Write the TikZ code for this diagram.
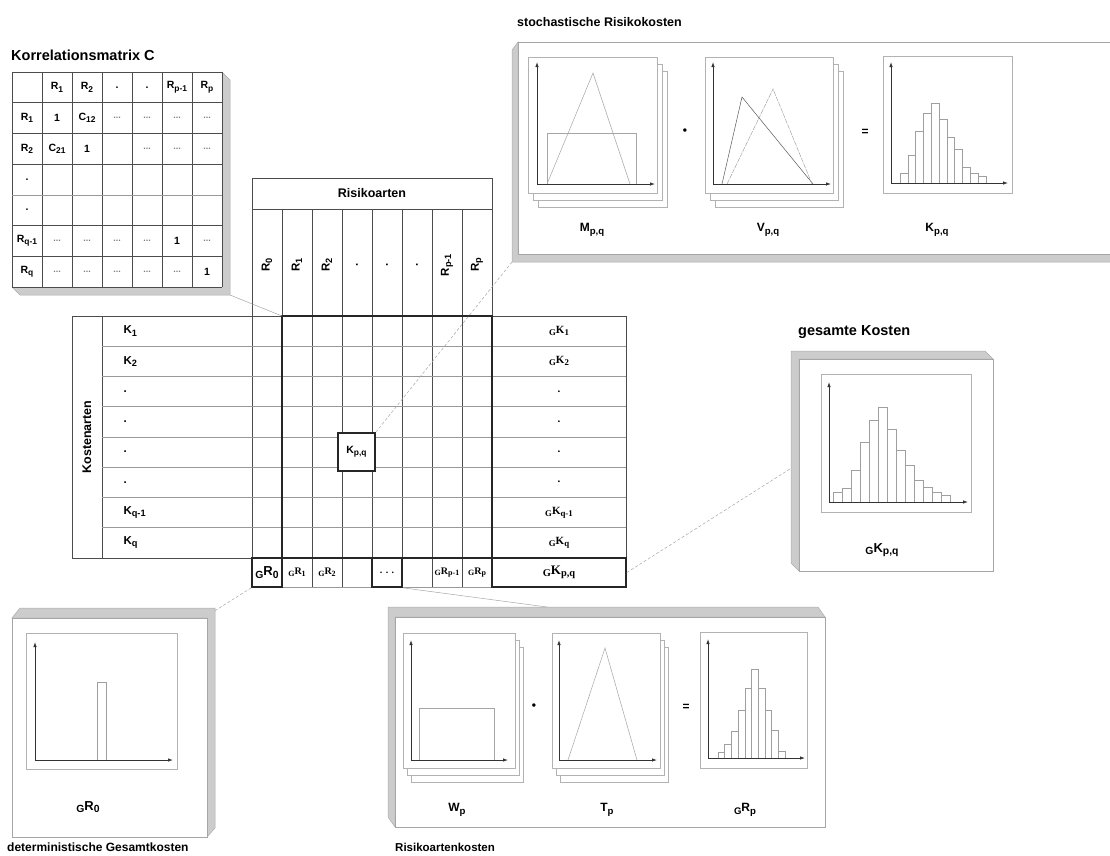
\documentclass[tikz,border=0pt]{standalone}
\usepackage{fontspec}
\setmainfont{Liberation Serif}
\setsansfont{Liberation Sans}
\usetikzlibrary{positioning, calc, arrows.meta}
\newcommand{\sub}[1]{\raisebox{-0.4ex}{\scalebox{0.8}{#1}}}
\newcommand{\grdots}{\textcolor{gray}{\fontsize{9}{9}\selectfont...}}

\begin{document}
\begin{tikzpicture}[x=1pt, y=-1pt,
    ttl/.style={anchor=west, inner sep=0pt, font=\sffamily\bfseries\fontsize{12.5}{14}\selectfont},
    lbl/.style={font=\sffamily\bfseries\fontsize{11.5}{13}\selectfont},
    mtx/.style={font=\sffamily\bfseries\fontsize{10.5}{12}\selectfont},
    glbl/.style={font=\rmfamily\bfseries\fontsize{11}{12}\selectfont},
    slbl/.style={font=\rmfamily\bfseries\fontsize{10}{12}\selectfont},
    plbl/.style={font=\sffamily\bfseries\fontsize{12}{14}\selectfont},
    gln/.style={draw=black!70, line width=0.6pt},
    hln/.style={draw=black!40, line width=0.6pt},
    thk/.style={draw=black!85, line width=1.6pt},
    cell/.style={thk, fill=white, inner sep=0pt},
    slab/.style={fill=gray!40, draw=gray!65, line width=0.5pt},
    face/.style={fill=white, draw=gray!70, line width=0.6pt},
    frm/.style={fill=white, draw=gray!60, line width=0.5pt},
    ax/.style={-{Latex[length=5pt, width=3.5pt]}, line width=0.8pt, black!80},
    crv/.style={draw=gray!70, line width=0.5pt},
    bar/.style={draw=gray!75, fill=white, line width=0.5pt},
    lnk/.style={draw=gray!70, line width=0.5pt},
    dlnk/.style={lnk, dash pattern=on 3pt off 2pt},
]
\useasboundingbox (0,0) rectangle (1110,855);

% --- Korrelationsmatrix ---
\node[ttl, font=\sffamily\bfseries\fontsize{14.5}{16}\selectfont] (corr-title)
    at (11,55) {Korrelationsmatrix C};
\draw[slab] (222,72) -- (230,80) -- (230,295) -- (20,295) -- (12,287)
    -- (222,287) -- cycle;
\fill[white] (12,72) rectangle (222,287);
\foreach \i in {0,...,7}
    \draw[gln] ({12+30*\i},72) -- ({12+30*\i},287);
\foreach \j in {0,1,2,3,5,6,7}
    \draw[gln] (12,{72+30.7*\j}) -- (222,{72+30.7*\j});
\draw[hln] (12,194.8) -- (222,194.8);
\foreach \row [count=\r from 0] in {
    {{}, R\sub{1}, R\sub{2}, ., ., R\sub{p-1}, R\sub{p}},
    {R\sub{1}, 1, C\sub{12}, \grdots, \grdots, \grdots, \grdots},
    {R\sub{2}, C\sub{21}, 1, {}, \grdots, \grdots, \grdots},
    {., {}, {}, {}, {}, {}, {}},
    {., {}, {}, {}, {}, {}, {}},
    {R\sub{q-1}, \grdots, \grdots, \grdots, \grdots, 1, \grdots},
    {R\sub{q}, \grdots, \grdots, \grdots, \grdots, \grdots, 1}}
    \foreach \t [count=\c from 0] in \row
        \node[mtx] (c-\r-\c) at ({27+30*\c},{87.35+30.7*\r}) {\t};

% --- Risikoarten ---
\draw[gln] (252,178) rectangle (492,209);
\node[lbl, font=\sffamily\bfseries\fontsize{12.5}{14}\selectfont] (risk-title)
    at (372,193.5) {Risikoarten};
\foreach \i in {0,...,8}
    \draw[gln] ({252+30*\i},209) -- ({252+30*\i},587);
\foreach \t [count=\c from 0] in {R\sub{0}, R\sub{1}, R\sub{2}, ., ., .,
    R\sub{p-1}, R\sub{p}}
    \node[lbl, rotate=90] (col-\c) at ({267+30*\c},265) {\t};

% --- Kostenarten ---
\draw[gln] (72,316) rectangle (626,558);
\draw[gln] (102,316) -- (102,558);
\foreach \j in {1,...,7}
    \draw[hln] (102,{316+30.25*\j}) -- (626,{316+30.25*\j});
\draw[hln] (252,587) -- (626,587);
\draw[gln] (626,558) -- (626,587);
\node[lbl, rotate=90, font=\sffamily\bfseries\fontsize{12.5}{14}\selectfont]
    (cost-title) at (87,437) {Kostenarten};
\foreach \t [count=\r from 0] in {K\sub{1}, K\sub{2}, ., ., ., .,
    K\sub{q-1}, K\sub{q}}
    \node[lbl, anchor=west] (row-\r) at (120,{331+30.25*\r}) {\t};
\foreach \t [count=\r from 0] in {\sub{G}K\sub{1}, \sub{G}K\sub{2},
    ., ., ., ., \sub{G}K\sub{q-1}, \sub{G}K\sub{q}}
    \node[glbl] (gk-\r) at (559,{331+30.25*\r}) {\t};

% --- Summen ---
\draw[thk] (282,316) rectangle (492,558);
\node[slbl] (gr1) at (297,572.5) {\sub{G}R\sub{1}};
\node[slbl] (gr2) at (327,572.5) {\sub{G}R\sub{2}};
\node[slbl] (grp1) at (447,572.5) {\sub{G}R\sub{p-1}};
\node[slbl] (grp) at (477,572.5) {\sub{G}R\sub{p}};
\node[cell, minimum width=30pt, minimum height=29pt,
      font=\sffamily\bfseries\fontsize{13}{14}\selectfont] (gr0)
    at (267,572.5) {\sub{G}R\sub{0}};
\node[cell, minimum width=30pt, minimum height=29pt, slbl] (gdots)
    at (387,572.5) {.\,\,.\,\,.};
\node[cell, minimum width=134pt, minimum height=29pt,
      font=\rmfamily\bfseries\fontsize{13}{14}\selectfont] (gkpq)
    at (559,572.5) {\sub{G}K\sub{p,q}};
\node[cell, minimum width=37pt, minimum height=38pt,
      font=\sffamily\bfseries\fontsize{10.5}{12}\selectfont] (kpq)
    at (356.5,452) {K\sub{p,q}};

% --- Verbindungen ---
\coordinate (corr-se) at (230,295);
\coordinate (risk-nw) at (282,316);
\coordinate (stoch-sw) at (512,262);
\coordinate (total-w) at (793,467);
\coordinate (det-ne) at (213,612);
\coordinate (rart-n) at (607,615);
\draw[lnk] (corr-se) -- (risk-nw);
\draw[dlnk] (kpq.north east) -- (stoch-sw);
\draw[dlnk] (gkpq.east) -- (total-w);
\draw[dlnk] (gr0.south west) -- (det-ne);
\draw[lnk] (gdots.south east) -- (rart-n);

% --- stochastische Risikokosten ---
\node[ttl] (stoch-title) at (517,22) {stochastische Risikokosten};
\draw[slab] (518,42) -- (512,50) -- (512,262) -- (1115,262) -- (1115,254)
    -- (518,254) -- cycle;
\fill[white] (518,42) rectangle (1115,254);
\draw[face] (1115,42) -- (518,42) -- (518,254) -- (1115,254);
% M
\foreach \d in {2,1,0}
    \draw[frm] ({528+5*\d},{57+7*\d}) rectangle ++(129,136);
\draw[crv] (547,184) -- (593,73) -- (630,184);
\draw[crv] (547,184) rectangle (636,133);
\draw[ax] (537,184) -- (537,62);
\draw[ax] (537,184) -- (655,184);
\node[plbl] (dot1) at (685,132) {\textbullet};
\node[plbl] (m-lbl) at (592,230) {M\sub{p,q}};
% V
\foreach \d in {2,1,0}
    \draw[frm] ({705+5*\d},{57+7*\d}) rectangle ++(128,136);
\draw[crv, draw=black!65] (722,184) -- (742,97) -- (813,184);
\draw[crv, dash pattern=on 5pt off 1pt] (727,184) -- (773,89) -- (812,184);
\draw[ax] (713,184) -- (713,62);
\draw[ax] (713,184) -- (831,184);
\node[plbl] (eq1) at (865,132) {=};
\node[plbl] (v-lbl) at (768,230) {V\sub{p,q}};
% K
\draw[frm] (883,56) rectangle (1012,193);
\foreach \h [count=\i from 0] in {9.3,27.3,51.7,70,79.3,64,45.7,33.3,15.7,9.3,6.7}
    \draw[bar] ({900+7.8*\i},183) rectangle ++(7.8,-\h);
\draw[ax] (891,183) -- (891,62);
\draw[ax] (891,183) -- (1008,183);
\node[plbl] (k-lbl) at (937,230) {K\sub{p,q}};

% --- gesamte Kosten ---
\node[ttl, font=\sffamily\bfseries\fontsize{14.5}{16}\selectfont] (total-title)
    at (798,332) {gesamte Kosten};
\draw[slab] (799,571) -- (791,563) -- (791,351) -- (985,351) -- (993,359)
    -- (799,359) -- cycle;
\draw[face] (799,359) rectangle (993,571);
\draw[frm] (821,374) rectangle (971,512);
\foreach \h [count=\i from 0] in {9.3,13.7,31.3,59.3,82,94.7,72.7,52,37,21.3,14.3,9.3,6.3}
    \draw[bar] ({833+9.05*\i},502) rectangle ++(9.05,-\h);
\draw[ax] (829,502) -- (829,382);
\draw[ax] (829,502) -- (968,502);
\node[plbl, font=\sffamily\bfseries\fontsize{13}{14}\selectfont] (gk-lbl)
    at (882,550) {\sub{G}K\sub{p,q}};

% --- deterministische Gesamtkosten ---
\draw[slab] (12,618) -- (20,608) -- (215,608) -- (215,828) -- (207,837)
    -- (207,618) -- cycle;
\draw[face] (12,618) rectangle (207,837);
\draw[frm] (26,633) rectangle (177,769);
\draw[bar] (97,760) rectangle (106,682);
\draw[ax] (35,760) -- (35,642);
\draw[ax] (35,760) -- (173,760);
\node[plbl, font=\sffamily\bfseries\fontsize{13}{14}\selectfont] (gr0-lbl)
    at (88,807) {\sub{G}R\sub{0}};
\node[ttl, font=\sffamily\bfseries\fontsize{12}{14}\selectfont] (det-title)
    at (7,847) {deterministische Gesamtkosten};

% --- Risikoartenkosten ---
\draw[slab] (395,827) -- (388,817) -- (388,607) -- (818,607) -- (825,617)
    -- (395,617) -- cycle;
\draw[face] (395,617) rectangle (825,827);
% W
\foreach \d in {2,1,0}
    \draw[frm] ({403+4*\d},{633+7*\d}) rectangle ++(112,135);
\draw[crv] (419,760) rectangle (494,708);
\draw[ax] (411,760) -- (411,640);
\draw[ax] (411,760) -- (508,760);
\node[plbl] (dot2) at (534,707) {\textbullet};
\node[plbl] (w-lbl) at (457,810) {W\sub{p}};
% T
\foreach \d in {2,1,0}
    \draw[frm] ({552+4*\d},{633+7*\d}) rectangle ++(108,135);
\draw[crv] (568,760) -- (605,648) -- (637,760);
\draw[ax] (559,760) -- (559,640);
\draw[ax] (559,760) -- (657,760);
\node[plbl] (eq2) at (686,707) {=};
\node[plbl] (t-lbl) at (607,810) {T\sub{p}};
% gR_p
\draw[frm] (700,632) rectangle (807,768);
\foreach \h [count=\i from 0] in {5.7,13.3,27,48,69.7,88.3,69.7,48,27.7,6.7}
    \draw[bar] ({718+6.7*\i},758) rectangle ++(6.7,-\h);
\draw[ax] (708,758) -- (708,639);
\draw[ax] (708,758) -- (805,758);
\node[plbl] (grp-lbl) at (745,810) {\sub{G}R\sub{p}};
\node[ttl, font=\sffamily\bfseries\fontsize{11.5}{13}\selectfont] (rart-title)
    at (395,847) {Risikoartenkosten};
\end{tikzpicture}
\end{document}
